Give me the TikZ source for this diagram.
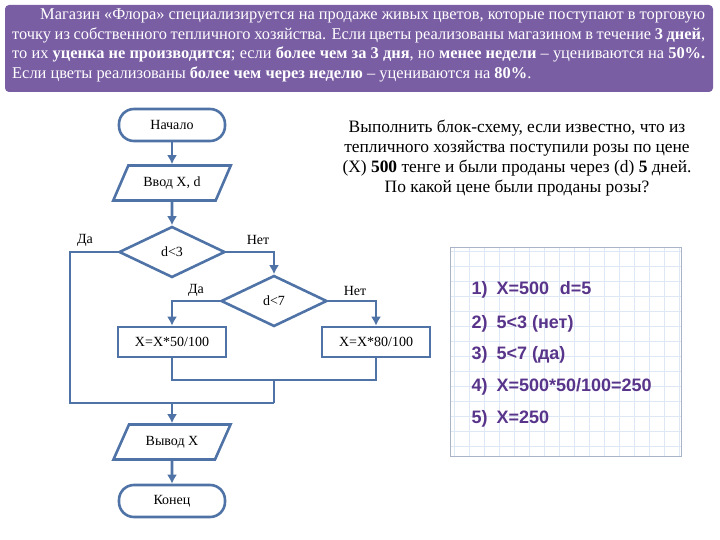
\documentclass[tikz,border=0pt]{standalone}
\usepackage{fontspec}
\setmainfont{Liberation Serif}
\newfontfamily\listfont{Liberation Sans}
\usetikzlibrary{positioning,arrows.meta,shapes.geometric}

\definecolor{flowblue}{RGB}{79,115,166}
\definecolor{headviolet}{RGB}{122,94,164}
\definecolor{listviolet}{RGB}{88,52,138}
\definecolor{gridblue}{RGB}{222,232,245}
\definecolor{panelgray}{RGB}{170,180,200}

\tikzset{
  term/.style={draw=flowblue, line width=2.6pt, rounded corners=15pt, minimum width=106pt, minimum height=32pt, font=\fontsize{14}{16}\selectfont},
  inout/.style={draw=flowblue, line width=2.6pt, trapezium, trapezium left angle=60, trapezium right angle=120, trapezium stretches=true, minimum width=118pt, minimum height=35pt, font=\fontsize{14}{16}\selectfont},
  cond/.style={draw=flowblue, line width=2.6pt, diamond, aspect=2, inner sep=0pt, minimum width=106pt, minimum height=51pt, font=\fontsize{14}{16}\selectfont},
  proc/.style={draw=flowblue, line width=2.6pt, rectangle, minimum width=108pt, minimum height=30pt, font=\fontsize{14}{16}\selectfont},
  flow/.style={draw=flowblue, line width=2.6pt},
  answer/.style={font=\fontsize{14}{16}\selectfont},
  step line/.style={anchor=base west, text=listviolet, font=\listfont\bfseries\fontsize{18}{20}\selectfont}
}

\begin{document}
\begin{tikzpicture}[x=1pt, y=-1pt, >={Latex[length=9pt,width=10pt]}]
  \useasboundingbox (0,0) rectangle (720,540);
  % task text
  \fill[headviolet, rounded corners=4pt] (5,5) rectangle (713,92);
  \node[anchor=north west, inner sep=0pt, text=white] (task) at (12,9) {%
    \begin{minipage}{693pt}\fontsize{16.4}{19.5}\selectfont\setlength{\parindent}{28pt}%
    \indent Магазин «Флора» специализируется на продаже живых цветов, которые поступают в торговую\linebreak
    точку из собственного тепличного хозяйства. Если цветы реализованы магазином в течение \textbf{3 дней},\linebreak
    то их \textbf{уценка не производится}; если \textbf{более чем за 3 дня}, но \textbf{менее недели} -- уцениваются на \textbf{50\%.}\linebreak
    Если цветы реализованы \textbf{более чем через неделю} -- уцениваются на \textbf{80\%}.
    \end{minipage}};

  % flow chart
  \node[term] (start) at (172,125) {Начало};
  \node[inout] (input) at (172,183) {Ввод X, d};
  \node[cond] (c1) at (172,252) {d<3};
  \node[cond] (c2) at (274,301) {d<7};
  \node[proc] (b1) at (172,342) {X=X*50/100};
  \node[proc] (b2) at (376,342) {X=X*80/100};
  \node[inout] (output) at (172,442) {Вывод X};
  \node[term] (stop) at (172,501) {Конец};
  \coordinate (mid) at (274,380);
  \coordinate (join) at (274,403);
  \coordinate (bypass) at (70,403);

  \draw[flow,->] (start) -- (input);
  \draw[flow,->] (input) -- (c1);
  \draw[flow] (c1.west) -| (bypass) -- (join);
  \draw[flow,->] (c1.east) -| (c2.north);
  \draw[flow,->] (c2.west) -| (b1.north);
  \draw[flow,->] (c2.east) -| (b2.north);
  \draw[flow] (b1.south) |- (mid) -| (b2.south);
  \draw[flow] (mid) -- (join);
  \draw[flow,->] (join) -| (output.north);
  \draw[flow,->] (output) -- (stop);

  \node[answer] (yes1) at (85,240) {Да};
  \node[answer] (no1) at (258,240) {Нет};
  \node[answer] (yes2) at (196,290) {Да};
  \node[answer] (no2) at (355,291) {Нет};

  % question
  \node[align=center, font=\fontsize{17.4}{20}\selectfont] (question) at (517,158)
    {Выполнить блок-схему, если известно, что из\\
     тепличного хозяйства поступили розы по цене\\
     (X) \textbf{500} тенге и были проданы через (d) \textbf{5} дней.\\
     По какой цене были проданы розы?};

  % solution on squared paper
  \foreach \gx in {454,469,...,680} \draw[gridblue, line width=0.6pt] (\gx,247) -- (\gx,456);
  \foreach \gy in {251,266,...,455} \draw[gridblue, line width=0.6pt] (450,\gy) -- (681,\gy);
  \draw[panelgray, line width=0.8pt] (450,247) rectangle (681,456);
  \node[step line] (s1) at (468,294) {1)\hspace{0.5em}X=500\hspace{0.6em}d=5};
  \node[step line] (s2) at (468,328) {2)\hspace{0.5em}5<3 (нет)};
  \node[step line] (s3) at (468,359) {3)\hspace{0.5em}5<7 (да)};
  \node[step line] (s4) at (468,391) {4)\hspace{0.5em}X=500*50/100=250};
  \node[step line] (s5) at (468,423) {5)\hspace{0.5em}X=250};
\end{tikzpicture}
\end{document}
